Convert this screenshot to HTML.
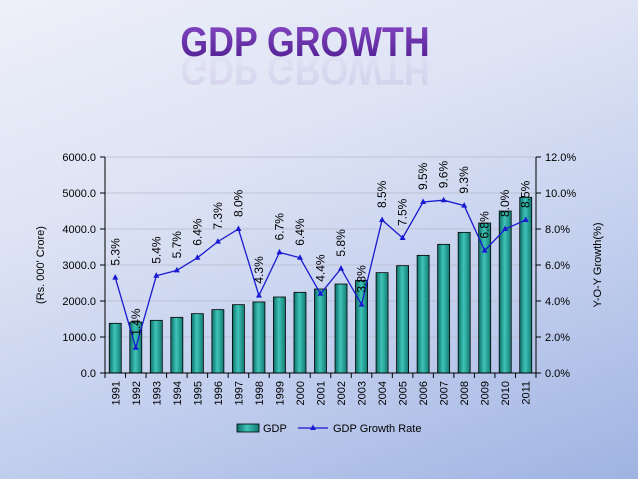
<!DOCTYPE html>
<html><head><meta charset="utf-8"><style>
html,body{margin:0;padding:0}
body{width:638px;height:479px;overflow:hidden;background:linear-gradient(160deg,#eef0fa 0%,#dde3f4 35%,#c3cfee 65%,#9fb3e2 100%);font-family:"Liberation Sans",sans-serif}
svg{position:absolute;left:0;top:0}
</style></head><body>
<svg width="638" height="479">
<defs>
<linearGradient id="bar" x1="0" x2="1"><stop offset="0" stop-color="#0d6e67"/><stop offset="0.45" stop-color="#3fc4b8"/><stop offset="1" stop-color="#127a72"/></linearGradient>
<linearGradient id="tt" x1="0" y1="0" x2="0" y2="1"><stop offset="0" stop-color="#8a4cc7"/><stop offset="1" stop-color="#4b1a8c"/></linearGradient>
<linearGradient id="rf" x1="0" y1="0" x2="0" y2="1"><stop offset="0" stop-color="#7a55b0" stop-opacity="0.3"/><stop offset="1" stop-color="#7a55b0" stop-opacity="0"/></linearGradient>
</defs>
<g transform="translate(305,0) scale(0.85,1)">
<text x="0" y="56" text-anchor="middle" font-size="42" font-weight="bold" fill="url(#tt)">GDP GROWTH</text>
<text x="0" y="56" text-anchor="middle" font-size="42" font-weight="bold" fill="url(#rf)" transform="translate(0,112) scale(1,-1)" opacity="0.5">GDP GROWTH</text>
</g>
<g id="chart"></g>
</svg>
<script>
const years=["1991","1992","1993","1994","1995","1996","1997","1998","1999","2000","2001","2002","2003","2004","2005","2006","2007","2008","2009","2010","2011"];
const gdp=[1380,1415,1463,1546,1648,1760,1898,1972,2111,2241,2333,2472,2574,2787,2981,3268,3574,3907,4166,4500,4880];
const growth=[5.3,1.4,5.4,5.7,6.4,7.3,8.0,4.3,6.7,6.4,4.4,5.8,3.8,8.5,7.5,9.5,9.6,9.3,6.8,8.0,8.5];
const leftTicks=[0,1000,2000,3000,4000,5000,6000];
const rightTicks=[0,2,4,6,8,10,12];
const NS="http://www.w3.org/2000/svg";
const g=document.getElementById('chart');
const X0=105,X1=536,Y0=373,Y1=157;
const band=(X1-X0)/years.length;
const xc=i=>X0+band*(i+0.5);
const yl=v=>Y0-(v/6000)*(Y0-Y1);
const yr=v=>Y0-(v/12)*(Y0-Y1);
function mk(t,a,p){const e=document.createElementNS(NS,t);for(const k in a)e.setAttribute(k,a[k]);(p||g).appendChild(e);return e;}
leftTicks.forEach((v,i)=>{
 const y=yl(v);
 if(v>0){const l=mk('line',{x1:X0,x2:X1,y1:y,y2:y,stroke:'#b8b8c8','stroke-width':0.7});}
 mk('line',{x1:X0-5,x2:X0,y1:y,y2:y,stroke:'#000'});
 const t=mk('text',{x:X0-9,y:y+4,'text-anchor':'end','font-size':11});t.textContent=v.toFixed(1);
 
});
rightTicks.forEach(v=>{
 const y=yr(v);
 mk('line',{x1:X1,x2:X1+5,y1:y,y2:y,stroke:'#000'});
 const t=mk('text',{x:X1+9,y:y+4,'font-size':11});t.textContent=v.toFixed(1)+'%';
 
});
years.forEach((yv,i)=>{
 const x=X0+band*i;
 mk('line',{x1:x,x2:x,y1:Y0,y2:Y0+5,stroke:'#000'});
 const h=Y0-yl(gdp[i]);
 const b=mk('rect',{x:xc(i)-6,y:yl(gdp[i]),width:12,height:h,fill:'url(#bar)',stroke:'#000','stroke-width':0.8});
 
 const t=mk('text',{x:0,y:0,'font-size':11,'text-anchor':'end',transform:`translate(${xc(i)+4},${Y0+8}) rotate(-90)`});t.textContent=yv;
 
});
mk('line',{x1:X1,x2:X1,y1:Y0+5,y2:Y0,stroke:'#000'});
mk('line',{x1:X0,x2:X1,y1:Y0,y2:Y0,stroke:'#000'});
mk('line',{x1:X0,x2:X0,y1:Y1,y2:Y0,stroke:'#000'});
mk('line',{x1:X1,x2:X1,y1:Y1,y2:Y0,stroke:'#000'});
const pts=growth.map((v,i)=>xc(i)+','+yr(v)).join(' ');
const pl=mk('polyline',{points:pts,fill:'none',stroke:'#1a1ad0','stroke-width':1.3});

growth.forEach((v,i)=>{
 const x=xc(i),y=yr(v);
 const m=mk('polygon',{points:`${x},${y-3.5} ${x-3},${y+2} ${x+3},${y+2}`,fill:'#1a1ad0'});
 
 const t=mk('text',{x:0,y:0,'font-size':12,transform:`translate(${x+4},${y-12}) rotate(-90)`});t.textContent=v.toFixed(1)+'%';
 
});
let t=mk('text',{x:0,y:0,'font-size':11,'text-anchor':'middle',transform:'translate(44,265) rotate(-90)'});t.textContent="(Rs. 000' Crore)";

t=mk('text',{x:0,y:0,'font-size':11,'text-anchor':'middle',transform:'translate(601,265) rotate(-90)'});t.textContent="Y-O-Y Growth(%)";

const lg=mk('g',{});
mk('rect',{x:237,y:424,width:22,height:8,fill:'url(#bar)',stroke:'#000','stroke-width':0.8},lg);
t=mk('text',{x:263,y:432,'font-size':11},lg);t.textContent='GDP';
mk('line',{x1:298,x2:328,y1:428,y2:428,stroke:'#1a1ad0','stroke-width':1.3},lg);
mk('polygon',{points:'313,424.5 310,430 316,430',fill:'#1a1ad0'},lg);
t=mk('text',{x:333,y:432,'font-size':11},lg);t.textContent='GDP Growth Rate';
</script>
</body></html>
